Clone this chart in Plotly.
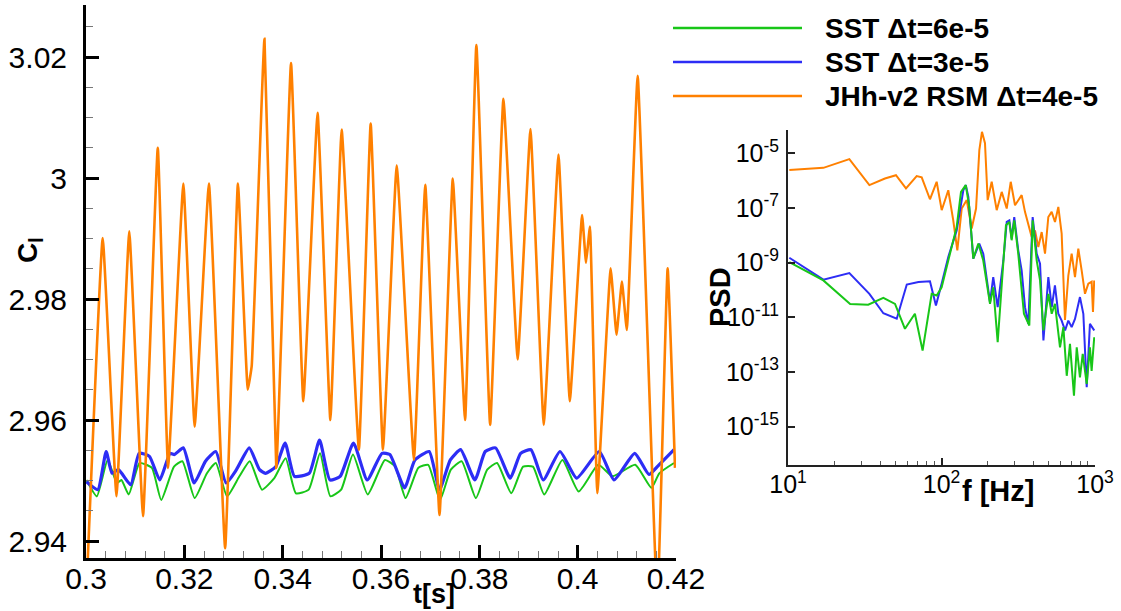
import plotly.graph_objects as go

# ---------------- lift-coefficient time histories ----------------
t_sst60 = [0.3001, 0.3022, 0.3044, 0.3063, 0.3072, 0.3087, 0.3109, 0.3134, 0.3153, 0.3179,
           0.3196, 0.3221, 0.3246, 0.3264, 0.3287, 0.3312, 0.3333, 0.3358, 0.3383, 0.3406,
           0.3427, 0.3453, 0.3476, 0.3497, 0.3519, 0.3543, 0.3573, 0.3608, 0.3629, 0.3650,
           0.3676, 0.3696, 0.3720, 0.3742, 0.3764, 0.3793, 0.3816, 0.3836, 0.3865, 0.3889,
           0.3909, 0.3932, 0.3969, 0.4002, 0.4042, 0.4071, 0.4117, 0.4150, 0.4166, 0.4196]
cl_sst60 = [2.9501, 2.9474, 2.9534, 2.9496, 2.9501, 2.9477, 2.9529, 2.9521, 2.9468, 2.9523,
            2.9532, 2.9471, 2.9512, 2.9529, 2.9474, 2.9507, 2.9532, 2.9485, 2.9504, 2.9537,
            2.9479, 2.9485, 2.9545, 2.9474, 2.9485, 2.9543, 2.9477, 2.9534, 2.9523, 2.9471,
            2.9521, 2.9526, 2.9468, 2.9518, 2.9532, 2.9471, 2.9518, 2.9529, 2.9479, 2.9523,
            2.9523, 2.9477, 2.9534, 2.9482, 2.9526, 2.9507, 2.9526, 2.9488, 2.9512, 2.9529]

t_sst30 = [0.3001, 0.3024, 0.3041, 0.3053, 0.3066, 0.3091, 0.3108, 0.3129, 0.3150, 0.3171,
           0.3180, 0.3198, 0.3220, 0.3243, 0.3264, 0.3285, 0.3306, 0.3332, 0.3353, 0.3365,
           0.3386, 0.3405, 0.3424, 0.3454, 0.3475, 0.3496, 0.3517, 0.3544, 0.3572, 0.3602,
           0.3618, 0.3648, 0.3669, 0.3698, 0.3719, 0.3741, 0.3762, 0.3791, 0.3812, 0.3833,
           0.3863, 0.3884, 0.3905, 0.3930, 0.3964, 0.3998, 0.4044, 0.4074, 0.4116, 0.4145,
           0.4162, 0.4196]
cl_sst30 = [2.9498, 2.9485, 2.9548, 2.9512, 2.9518, 2.9493, 2.9545, 2.9540, 2.9501, 2.9545,
            2.9543, 2.9554, 2.9496, 2.9532, 2.9548, 2.9496, 2.9518, 2.9554, 2.9518, 2.9512,
            2.9523, 2.9562, 2.9507, 2.9512, 2.9567, 2.9501, 2.9507, 2.9562, 2.9501, 2.9545,
            2.9543, 2.9488, 2.9534, 2.9548, 2.9485, 2.9534, 2.9551, 2.9501, 2.9548, 2.9554,
            2.9504, 2.9545, 2.9551, 2.9501, 2.9548, 2.9504, 2.9548, 2.9501, 2.9545, 2.9510,
            2.9523, 2.9551]

t_rsm = [0.3000, 0.3034, 0.3062, 0.3088, 0.3116, 0.3146, 0.3167, 0.3198, 0.3221, 0.3250,
         0.3283, 0.3309, 0.3329, 0.3337, 0.3363, 0.3387, 0.3417, 0.3442, 0.3471, 0.3497,
         0.3520, 0.3555, 0.3579, 0.3604, 0.3632, 0.3667, 0.3690, 0.3719, 0.3746, 0.3771,
         0.3794, 0.3822, 0.3849, 0.3878, 0.3904, 0.3931, 0.3961, 0.3984, 0.4009, 0.4017,
         0.4025, 0.4040, 0.4067, 0.4079, 0.4090, 0.4100, 0.4122, 0.4162, 0.4183, 0.4198]
cl_rsm = [2.9300, 2.9901, 2.9474, 2.9912, 2.9441, 3.0050, 2.9521, 2.9991, 2.9589, 2.9991,
          2.9388, 2.9991, 2.9650, 2.9689, 3.0230, 2.9521, 3.0190, 2.9631, 3.0108, 2.9600,
          3.0080, 2.9551, 3.0090, 2.9551, 3.0021, 2.9534, 2.9989, 2.9443, 2.9999, 2.9600,
          3.0220, 2.9592, 3.0131, 2.9700, 3.0081, 2.9592, 3.0039, 2.9631, 2.9939, 2.9860,
          2.9920, 2.9479, 2.9851, 2.9741, 2.9829, 2.9749, 3.0169, 2.9300, 2.9851, 2.9521]

# ---------------- power spectral density (exponents of 10) ----------------
f_sst60 = [10.2, 17.0, 25.4, 33.3, 41.8, 49.8, 57.8, 67.1, 75.3, 84.1, 86.3, 93.1, 100.2,
           110.7, 125.6, 134.0, 143.9, 151.7, 161.1, 173.8, 187.1, 207.0, 217.3, 232.3,
           246.6, 263.0, 276.7, 286.4, 297.8, 316.2, 344.4, 373.3, 392.6, 416.9, 438.5,
           461.3, 496.6, 522.4, 548.3, 591.6, 622.3, 654.6, 687.1, 729.5, 760.3, 798.0,
           831.8, 883.1, 926.8, 950.6, 988.5]
psd_sst60_exp = [-8.98, -9.65, -10.51, -10.54, -10.29, -10.51, -11.42, -10.87, -12.22, -10.51,
                 -10.14, -10.20, -9.90, -8.92, -7.69, -6.41, -6.16, -6.96, -8.85, -8.30,
                 -8.92, -10.51, -9.90, -11.91, -9.90, -7.63, -7.51, -8.18, -7.45, -8.67,
                 -10.87, -11.30, -7.45, -8.92, -9.65, -11.48, -10.14, -10.87, -10.51, -12.10,
                 -11.36, -13.14, -11.97, -13.87, -12.10, -13.20, -12.34, -13.44, -12.10,
                 -12.96, -11.73]

f_sst30 = [10.2, 17.0, 25.1, 33.9, 41.8, 51.1, 59.4, 70.8, 84.1, 92.0, 100.2, 110.7, 125.6,
           138.7, 143.9, 149.6, 161.1, 176.2, 187.1, 207.0, 217.3, 229.1, 232.3, 252.9,
           266.1, 276.7, 286.4, 297.8, 316.2, 332.7, 349.9, 367.7, 392.6, 416.9, 438.5,
           461.3, 496.6, 522.4, 548.3, 576.8, 606.5, 638.3, 670.2, 704.6, 740.7, 798.0,
           839.5, 883.1, 926.8, 988.5]
psd_sst30_exp = [-8.82, -9.62, -9.38, -10.14, -10.85, -11.05, -9.80, -9.71, -9.68, -10.57,
                 -9.77, -8.79, -7.82, -6.35, -6.16, -6.59, -8.85, -8.30, -8.67, -10.45,
                 -9.53, -10.51, -10.63, -8.92, -7.51, -7.45, -8.12, -7.33, -8.55, -9.28,
                 -10.63, -11.24, -7.33, -8.67, -9.04, -11.85, -9.53, -10.63, -9.83, -10.87,
                 -11.12, -11.48, -11.12, -11.36, -11.06, -10.26, -10.87, -13.56, -11.24,
                 -11.48]

f_rsm = [10.2, 17.0, 25.1, 33.9, 42.8, 50.5, 58.7, 68.9, 74.3, 84.1, 93.0, 100.3, 110.7,
         119.3, 126.8, 135.4, 146.0, 157.3, 167.9, 176.4, 183.5, 192.0, 199.9, 212.3,
         228.9, 246.8, 266.0, 282.5, 301.2, 316.5, 332.8, 349.8, 367.7, 386.8, 406.5,
         427.3, 449.4, 472.4, 496.5, 522.0, 548.8, 576.9, 606.5, 637.5, 670.2, 704.6,
         740.7, 778.6, 818.5, 860.5, 904.6, 950.9, 970.0, 988.0]
psd_rsm_exp = [-5.61, -5.53, -5.21, -6.16, -5.92, -5.80, -6.28, -5.83, -5.88, -6.68, -6.04,
               -7.08, -6.35, -7.45, -8.55, -7.02, -6.71, -7.75, -7.02, -4.88, -4.21, -4.63,
               -6.71, -6.04, -7.08, -6.41, -7.02, -6.04, -6.90, -6.71, -6.53, -7.14, -7.63,
               -8.06, -7.82, -8.43, -7.88, -8.67, -7.33, -7.14, -7.51, -6.96, -7.94, -11.10,
               -9.47, -8.67, -9.53, -8.49, -9.28, -10.14, -9.77, -9.70, -10.80, -9.65]

labels = ["SST \u0394t=6e-5", "SST \u0394t=3e-5", "JHh-v2 RSM \u0394t=4e-5"]
colors = ["#18c618", "#2d2df5", "#ff8000"]

FONT = "Liberation Sans, Arial, Helvetica, sans-serif"
W, H = 1121, 611

fig = go.Figure()

# main time-history panel
fig.add_trace(go.Scatter(x=t_sst60, y=cl_sst60, mode="lines", name=labels[0],
                         line=dict(color=colors[0], width=2, shape="spline", smoothing=0.5),
                         showlegend=False))
fig.add_trace(go.Scatter(x=t_sst30, y=cl_sst30, mode="lines", name=labels[1],
                         line=dict(color=colors[1], width=3.2, shape="spline", smoothing=0.5),
                         showlegend=False))
fig.add_trace(go.Scatter(x=t_rsm, y=cl_rsm, mode="lines", name=labels[2],
                         line=dict(color=colors[2], width=2.6, shape="spline", smoothing=0.3),
                         showlegend=False))

# spectrum inset
for f, p, c, n in [(f_rsm, psd_rsm_exp, colors[2], labels[2]),
                   (f_sst30, psd_sst30_exp, colors[1], labels[1]),
                   (f_sst60, psd_sst60_exp, colors[0], labels[0])]:
    fig.add_trace(go.Scatter(x=f, y=[10 ** e for e in p], mode="lines", name=n,
                             line=dict(color=c, width=2), showlegend=False,
                             xaxis="x2", yaxis="y2"))

tick_font = dict(family=FONT, size=30, color="black")
inset_font = dict(family=FONT, size=25, color="black")

main_common = dict(showline=True, linecolor="black", linewidth=3, mirror=False,
                   ticks="inside", ticklen=13, tickwidth=2.5, tickcolor="black",
                   showgrid=False, zeroline=False, tickfont=tick_font, automargin=False)
inset_common = dict(showline=True, linecolor="#222", linewidth=2, mirror=False,
                    ticks="inside", ticklen=7, tickwidth=1.5, tickcolor="#222",
                    showgrid=False, zeroline=False, tickfont=inset_font, automargin=False)

fig.update_layout(
    width=W, height=H, autosize=False, showlegend=False,
    margin=dict(l=0, r=0, t=0, b=0, pad=0, autoexpand=False),
    paper_bgcolor="white", plot_bgcolor="white",
    xaxis=dict(domain=[86 / W, 676 / W], range=[0.3, 0.42], tick0=0.3, dtick=0.02,
               ticklabelstandoff=-8,
               minor=dict(ticks="inside", ticklen=7, tickwidth=1.2, tickcolor="#777",
                          dtick=0.004, tick0=0.3, showgrid=False),
               anchor="y", **main_common),
    yaxis=dict(domain=[1 - 558 / H, 1 - 5 / H], range=[2.9372, 3.0286], tick0=2.94,
               dtick=0.02, ticklabelstandoff=10,
               minor=dict(ticks="inside", ticklen=7, tickwidth=1.2, tickcolor="#777",
                          dtick=0.005, tick0=2.94, showgrid=False),
               anchor="x", **main_common),
    xaxis2=dict(domain=[788 / W, 1095 / W], type="log", range=[1, 3],
                tickvals=[10, 100, 1000],
                ticktext=["10<sup>1</sup>", "10<sup>2</sup>", "10<sup>3</sup>"],
                ticklabelstandoff=-4,
                minor=dict(ticks="inside", ticklen=4, tickwidth=1, tickcolor="#555",
                           tickvals=[20, 30, 40, 50, 60, 70, 80, 90,
                                     200, 300, 400, 500, 600, 700, 800, 900],
                           showgrid=False),
                anchor="y2", **inset_common),
    yaxis2=dict(domain=[1 - 465 / H, 1 - 130 / H], type="log", range=[-16.405, -4.145],
                tickvals=[1e-15, 1e-13, 1e-11, 1e-9, 1e-7, 1e-5],
                ticktext=["10<sup>-15</sup>", "10<sup>-13</sup>", "10<sup>-11</sup>",
                          "10<sup>-9</sup>", "10<sup>-7</sup>", "10<sup>-5</sup>"],
                ticklabelstandoff=2,
                anchor="x2", **inset_common),
)

# axis titles
titles = [
    dict(text="<b>C<sub>l</sub></b>", x=29, y=250, angle=-90, size=28),
    dict(text="<b>t[s]</b>", x=434, y=594, angle=0, size=27),
    dict(text="<b>PSD</b>", x=720, y=297, angle=-90, size=29),
    dict(text="<b>f [Hz]</b>", x=998, y=491, angle=0, size=29),
]
for a in titles:
    fig.add_annotation(text=a["text"], x=a["x"] / W, y=1 - a["y"] / H,
                       xref="paper", yref="paper", showarrow=False,
                       textangle=a["angle"], xanchor="center", yanchor="middle",
                       font=dict(family=FONT, size=a["size"], color="black"))

# legend block, top right
legend_rows = [28, 62, 96]
for lab, col, yy in zip(labels, colors, legend_rows):
    yp = 1 - yy / H
    fig.add_shape(type="line", xref="paper", yref="paper",
                  x0=673 / W, x1=802 / W, y0=yp, y1=yp,
                  line=dict(color=col, width=2.6))
    fig.add_annotation(text="<b>" + lab + "</b>", x=823 / W, y=yp,
                       xref="paper", yref="paper", showarrow=False,
                       xanchor="left", yanchor="middle",
                       font=dict(family=FONT, size=28, color="black"))

fig.write_html("out.html")
